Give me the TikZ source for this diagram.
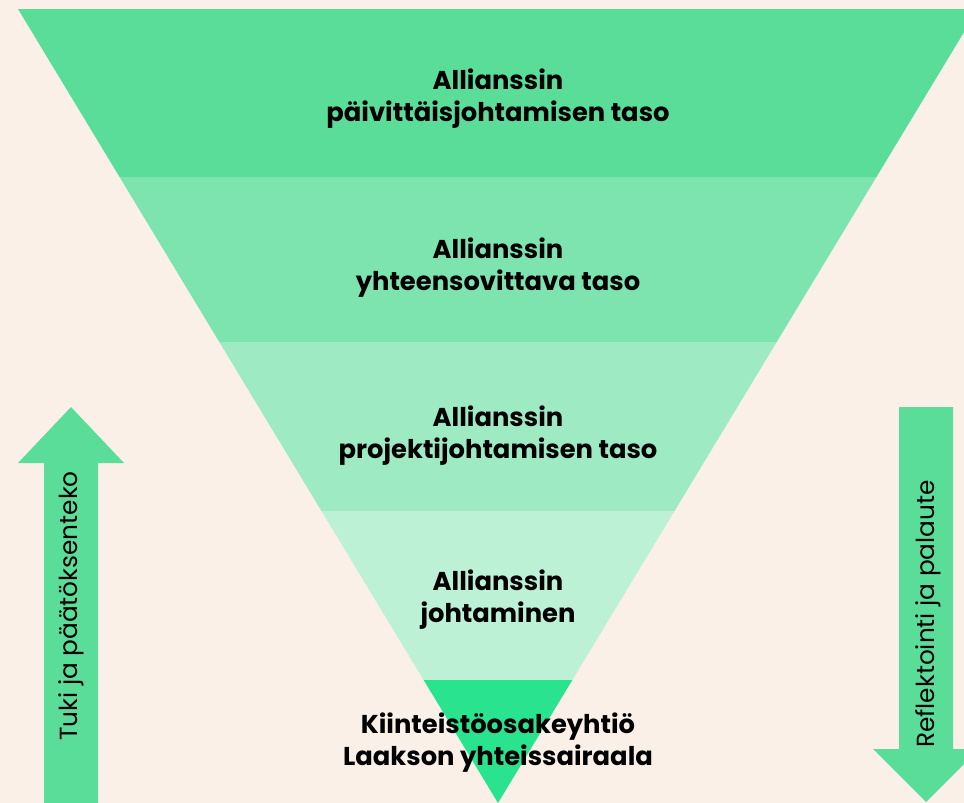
\documentclass[tikz,border=0pt]{standalone}
\usepackage{fontspec}
\setmainfont{Poppins}
\definecolor{bgc}{HTML}{FAF0E7}
\definecolor{bandA}{HTML}{5BDD9A}
\definecolor{bandB}{HTML}{7DE3AF}
\definecolor{bandC}{HTML}{9DEAC3}
\definecolor{bandD}{HTML}{BCF1D6}
\definecolor{bandE}{HTML}{2AE38F}
\tikzset{
  lvl/.style={align=center, anchor=base, font=\bfseries\fontsize{25.8}{32}\selectfont, text=black, inner sep=0pt},
  side/.style={rotate=90, anchor=center, font=\fontsize{24.8}{28}\selectfont, text=black, inner sep=0pt},
  arrowshape/.style={fill=bandA, draw=none}
}
\begin{document}
\begin{tikzpicture}[x=1pt,y=-1pt]
\useasboundingbox (0,0) rectangle (964,803);
\fill[bgc] (0,0) rectangle (964,803);
\clip (0,0) rectangle (964,803);
% bands
\fill[bandA] (18,9) -- (978,9) -- (876.44,177) -- (119.56,177) -- cycle;
\fill[bandB] (119.56,177) -- (876.44,177) -- (776.69,342) -- (219.31,342) -- cycle;
\fill[bandC] (219.31,342) -- (776.69,342) -- (674.53,511) -- (321.47,511) -- cycle;
\fill[bandD] (321.47,511) -- (674.53,511) -- (572.36,680) -- (423.64,680) -- cycle;
\fill[bandE] (423.64,680) -- (572.36,680) -- (498,803) -- cycle;
% arrows
\fill[arrowshape] (44,810) -- (44,463) -- (18,463) -- (71,407) -- (124,463) -- (98,463) -- (98,810) -- cycle;
\fill[arrowshape] (899,407) -- (953,407) -- (953,749) -- (979,749) -- (926,802) -- (873,749) -- (899,749) -- cycle;
% texts (anchor base = baseline of the last line)
\node[lvl] (l1) at (498,121) {Allianssin\\päivittäisjohtamisen taso};
\node[lvl] (l2) at (498,290) {Allianssin\\yhteensovittava taso};
\node[lvl] (l3) at (498,458) {Allianssin\\projektijohtamisen taso};
\node[lvl] (l4) at (498,622) {Allianssin\\johtaminen};
\node[lvl] (l5) at (498,765) {Kiinteistöosakeyhtiö\\Laakson yhteissairaala};
\node[side] (tl) at (71,606) {Tuki ja päätöksenteko};
\node[side] (tr) at (928,614) {Reflektointi ja palaute};
\end{tikzpicture}
\end{document}
